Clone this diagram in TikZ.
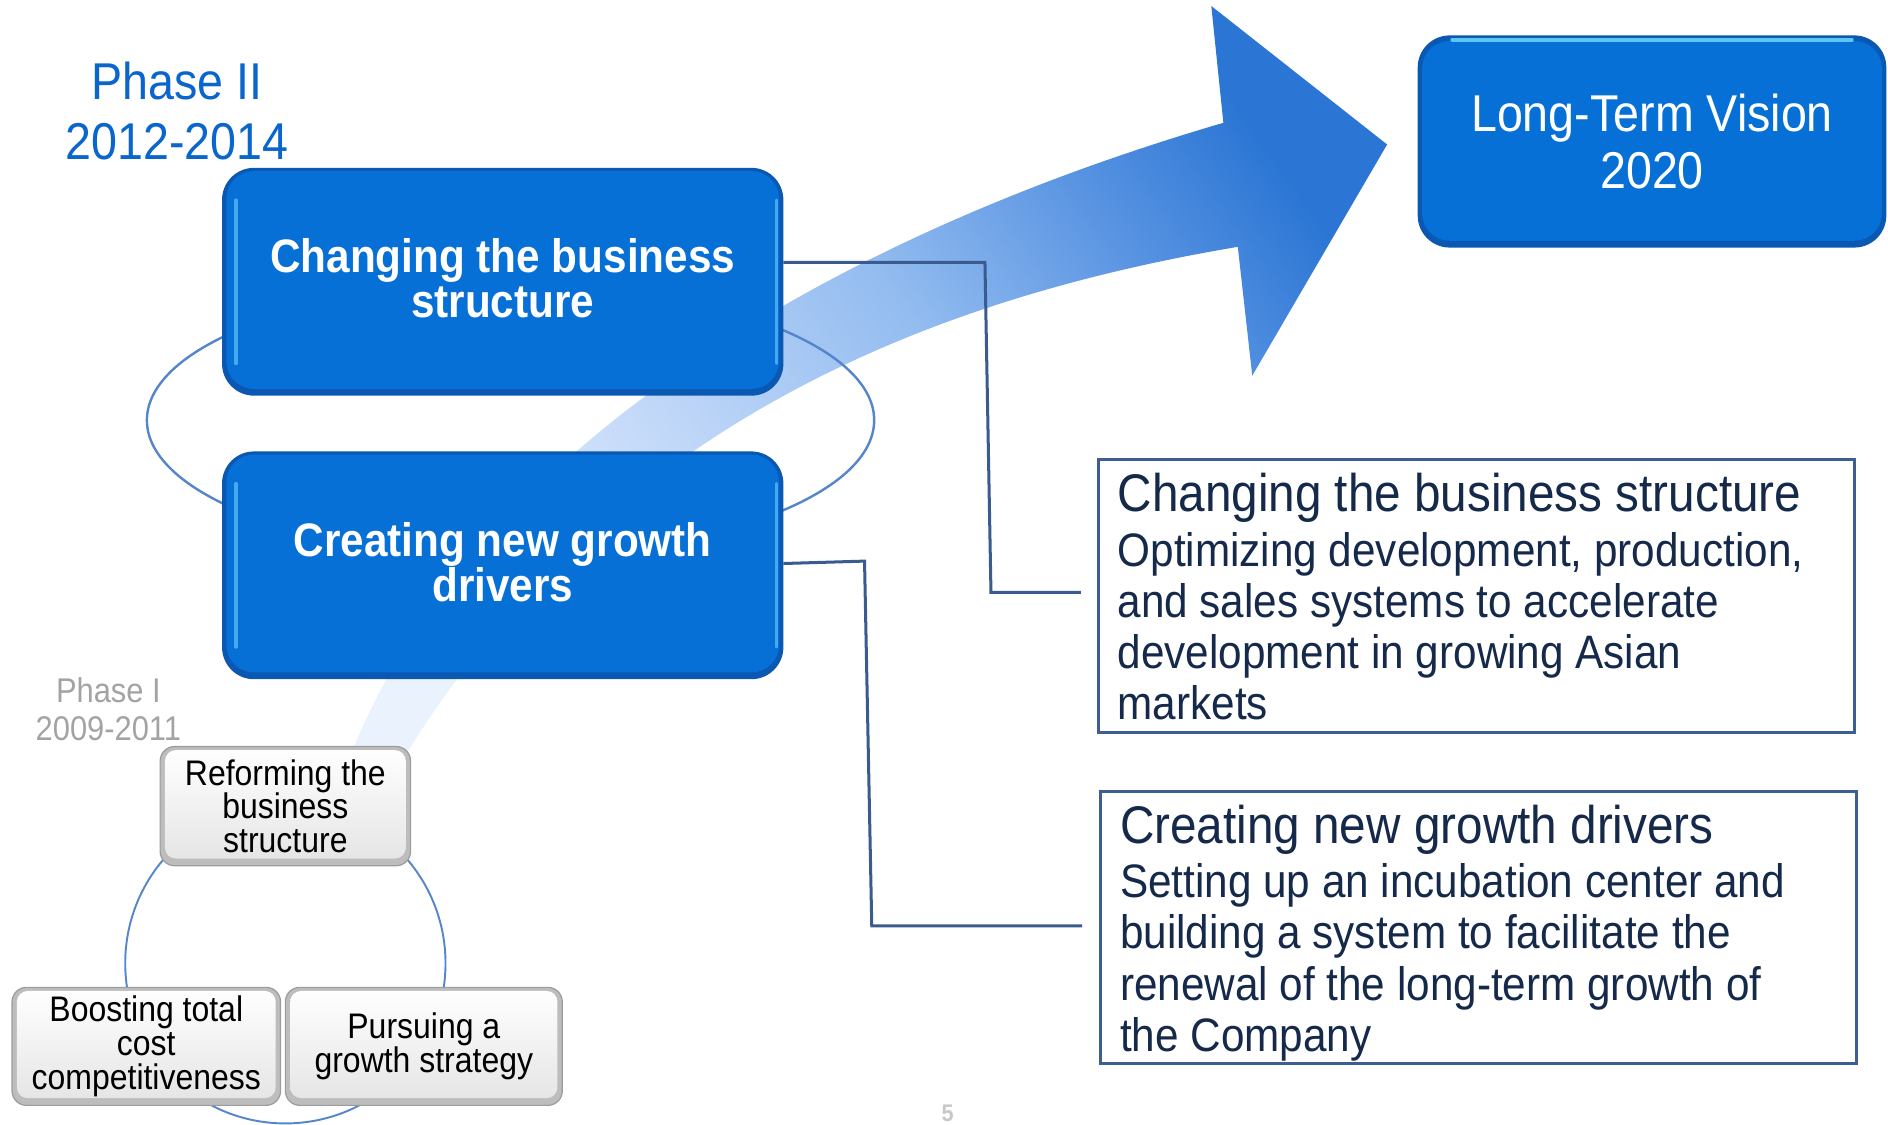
\documentclass[tikz,border=0pt]{standalone}
\usepackage{fontspec}
\setmainfont{Liberation Sans}[FakeStretch=0.9]
\usetikzlibrary{calc}

% palette
\definecolor{bmain}{HTML}{0670D6}
\definecolor{bedge}{HTML}{0B58B2}
\definecolor{bhi}{HTML}{55B8F6}
\definecolor{bcyan}{HTML}{5CC8F2}
\definecolor{phasetwo}{HTML}{0A66CC}
\definecolor{phaseone}{HTML}{A3A3A3}
\definecolor{connclr}{HTML}{3B5B8E}
\definecolor{frameclr}{HTML}{3D5E95}
\definecolor{navy}{HTML}{15294A}
\definecolor{ring}{HTML}{5586CC}
\definecolor{gouter}{HTML}{BDBDBD}
\definecolor{gedge}{HTML}{9C9C9C}
\definecolor{ginner}{HTML}{E4E4E4}
\definecolor{pgnum}{HTML}{C8C8C8}
\definecolor{sw0}{HTML}{EAF2FD}
\definecolor{sw1}{HTML}{C0D7F8}
\definecolor{sw2}{HTML}{93BCF0}
\definecolor{sw3}{HTML}{528FE0}
\definecolor{sw4}{HTML}{2B76D4}

% colour sweep of the big curved arrow, pale at the tail, deep at the head
\pgfdeclarehorizontalshading{sweep}{100bp}{color(0bp)=(sw0); color(25bp)=(sw0); color(40bp)=(sw1); color(54bp)=(sw2); color(67bp)=(sw3); color(75bp)=(sw4); color(100bp)=(sw4)}

\tikzset{
  bluebox/.style={draw=bedge, line width=1.2pt, fill=bedge, rounded corners=26pt,
    text=white, align=center, text depth=6pt,
    path picture={
      \fill[bmain, rounded corners=23pt]
        ([shift={(3pt,-2pt)}]path picture bounding box.north west) rectangle
        ([shift={(-3pt,5pt)}]path picture bounding box.south east);
      \draw[bhi, line width=2.5pt, opacity=.8, line cap=round]
        ([shift={(11pt,-26pt)}]path picture bounding box.north west) --
        ([shift={(11pt,26pt)}]path picture bounding box.south west);
      \draw[bhi, line width=2pt, opacity=.8, line cap=round]
        ([shift={(-5pt,-26pt)}]path picture bounding box.north east) --
        ([shift={(-5pt,26pt)}]path picture bounding box.south east);
    }},
  topglow/.style={path picture={
      \fill[bmain, rounded corners=23pt]
        ([shift={(3pt,-4pt)}]path picture bounding box.north west) rectangle
        ([shift={(-3pt,5pt)}]path picture bounding box.south east);
      \draw[bcyan, line width=3pt, line cap=round]
        ([shift={(28pt,-3pt)}]path picture bounding box.north west) --
        ([shift={(-28pt,-3pt)}]path picture bounding box.north east);
    }},
  graybox/.style={draw=gedge, line width=1pt, fill=gouter, rounded corners=12pt,
    align=center, text=black, font=\fontsize{29.5}{28}\selectfont,
    path picture={
      \shade[top color=white, bottom color=ginner, rounded corners=9pt]
        ([shift={(4pt,-3pt)}]path picture bounding box.north west) rectangle
        ([shift={(-4pt,6pt)}]path picture bounding box.south east);
    }},
  framebox/.style={draw=frameclr, line width=2.5pt, fill=none},
  bodytext/.style={inner sep=0pt, align=left, text=navy, anchor=north west,
    font=\fontsize{39}{42.5}\selectfont},
  conn/.style={draw=connclr, line width=2.5pt},
}

\begin{document}
\begin{tikzpicture}[x=1pt, y=-1pt]
\useasboundingbox (0,0) rectangle (1568,934);

% big curved arrow towards the long-term vision
\shade[shading=sweep, shading angle=36]
  (290,630) .. controls (375,410) and (630,215) .. (1016,102)
  -- (1006,5) -- (1152,120) -- (1040,312) -- (1028,205)
  .. controls (760,250) and (500,360) .. (335,630) -- cycle;

% cycle rings
\draw[ring, line width=2pt] (424,349) ellipse [x radius=302, y radius=113];
\draw[ring, line width=1.6pt] (237,800) circle [radius=133];

% phase II
\node[text=phasetwo, align=center, font=\fontsize{43}{50}\selectfont] (ph2) at (147,92) {Phase II\\2012-2014};
\node[bluebox, minimum width=465pt, minimum height=188pt, font=\bfseries\fontsize{39}{37}\selectfont] (chg) at (417.5,234) {Changing the business\\structure};
\node[bluebox, minimum width=465pt, minimum height=188pt, font=\bfseries\fontsize{39}{37}\selectfont] (cgd) at (417.5,469.5) {Creating new growth\\drivers};

% goal
\node[draw=bedge, line width=1.2pt, fill=bedge, rounded corners=26pt, topglow,
  minimum width=388pt, minimum height=175pt, text=white, align=center,
  font=\fontsize{43}{47}\selectfont] (ltv) at (1372,117.5) {Long-Term Vision\\2020};

% phase I
\node[text=phaseone, align=center, font=\fontsize{28.5}{32}\selectfont] (ph1) at (90,589) {Phase I\\2009-2011};
\node[graybox, minimum width=208pt, minimum height=99pt] (ref) at (237,669.5) {Reforming the\\business\\structure};
\node[graybox, minimum width=223pt, minimum height=98pt] (bst) at (121.5,869) {Boosting total\\cost\\competitiveness};
\node[graybox, minimum width=230pt, minimum height=98pt] (pur) at (352,869) {Pursuing a\\growth strategy};

% explanation boxes
\node[framebox, minimum width=628pt, minimum height=226pt] (cbs) at (1226,495) {};
\node[bodytext] (cbstext) at (928,393) {{\fontsize{44}{44}\selectfont Changing the business structure}\\[2.5pt]
  Optimizing development, production,\\and sales systems to accelerate\\development in growing Asian\\markets};
\node[framebox, minimum width=628pt, minimum height=226pt] (cgn) at (1228,770) {};
\node[bodytext] (cgntext) at (930,668.5) {{\fontsize{44}{44}\selectfont Creating new growth drivers}\\[2.5pt]
  Setting up an incubation center and\\building a system to facilitate the\\renewal of the long-term growth of\\the Company};

% leader lines
\draw[conn] ([yshift=16pt]chg.east) -- (818,218) -- (823,492) -- ([xshift=-13pt,yshift=3pt]cbs.west);
\draw[conn] ([yshift=1.5pt]cgd.east) -- (718,466) -- (724,769) -- ([xshift=-14pt,yshift=1pt]cgn.west);

% page number
\node[text=pgnum, anchor=base, font=\bfseries\fontsize{20}{20}\selectfont] (pg) at (787,931) {5};
\end{tikzpicture}
\end{document}
